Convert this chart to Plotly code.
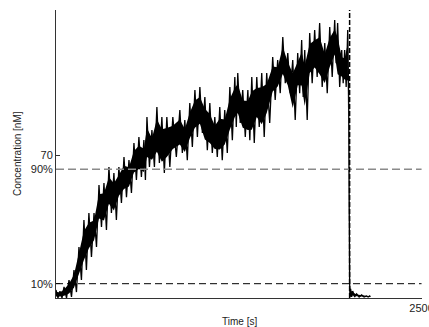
import plotly.graph_objects as go

# ---- data ----
time_s = [0, 27, 55, 89, 123, 157, 191, 225, 260, 294, 328, 362, 396, 430, 465, 499,
          533, 567, 601, 622, 656, 690, 724, 758, 799, 847, 881, 915, 950, 984, 1018,
          1052, 1086, 1120, 1154, 1189, 1223, 1243, 1277, 1312, 1339, 1373, 1407, 1441,
          1482, 1516, 1551, 1585, 1619, 1653, 1680, 1701, 1735, 1769, 1803, 1838, 1872,
          1906, 1926, 1954, 1974, 1995, 2008, 2015, 2029, 2056, 2090, 2124, 2145]
conc_upper = [3.9, 3.4, 5.4, 8.8, 13.7, 25.0, 38.2, 41.6, 41.6, 55.3, 56.3, 64.1, 61.2,
              64.1, 69.0, 67.5, 75.9, 78.8, 77.3, 88.6, 82.2, 93.5, 88.6, 88.6, 88.6,
              92.0, 87.1, 95.4, 101.8, 103.3, 98.4, 95.4, 88.6, 93.5, 92.0, 103.3, 108.2,
              110.1, 101.8, 101.8, 108.2, 108.2, 110.1, 110.1, 118.0, 116.5, 127.8, 119.9,
              116.5, 119.9, 126.3, 121.4, 129.7, 131.2, 134.6, 124.8, 132.7, 136.1, 134.6,
              121.4, 121.4, 131.2, 7.3, 4.5, 3.4, 2.0, 1.5, 1.0, 1.0]
conc_lower = [0.0, 0.0, 0.0, 0.5, 2.9, 8.8, 13.7, 20.1, 25.0, 34.8, 33.3, 41.6, 38.2,
              46.5, 49.4, 51.4, 57.8, 59.2, 57.8, 64.1, 64.1, 66.1, 61.2, 64.1, 69.0,
              71.0, 67.5, 73.9, 78.8, 80.8, 72.4, 71.0, 69.0, 67.5, 71.0, 77.3, 83.7,
              85.7, 78.8, 77.3, 75.9, 83.7, 78.8, 85.7, 96.9, 100.3, 105.2, 100.3, 87.1,
              100.3, 98.4, 87.1, 105.2, 108.2, 103.3, 100.3, 108.2, 115.0, 103.3, 105.2,
              103.3, 100.3, 0.5, 0.5, 0.5, 0.5, 0.5, 0.5, 0.5]
plateau = 70
level_10 = 7
level_90 = 63
stop_time = 2008
x_max = 2500
y_max = 141
y_ticks = [level_10, level_90, plateau]
y_ticktext = ["10%", "90%", "70"]
x_ticks = [2500]
x_ticktext = ["2500"]
x_title = "Time [s]"
y_title = "Concentration [nM]"

# zigzag between the envelopes to form the noisy trace
zx, zy = [], []
for i in range(len(time_s)):
    t = time_s[i]
    dt = (time_s[i + 1] - t) if i + 1 < len(time_s) else 10
    zx += [t, t + dt / 2]
    zy += [conc_upper[i], conc_lower[i]]

core_lo = [u + 0.22 * (l - u) for u, l in zip(conc_upper, conc_lower)]
core_hi = [u + 0.8 * (l - u) for u, l in zip(conc_upper, conc_lower)]

fig = go.Figure()
fig.add_trace(go.Scatter(x=time_s, y=core_hi, mode="lines", line=dict(color="black", width=0),
                         showlegend=False, hoverinfo="skip"))
fig.add_trace(go.Scatter(x=time_s, y=core_lo, mode="lines", line=dict(color="black", width=0),
                         fill="tonexty", fillcolor="black", showlegend=False, hoverinfo="skip"))
fig.add_trace(go.Scatter(x=zx, y=zy, mode="lines", line=dict(color="black", width=1.3),
                         showlegend=False))

fig.add_shape(type="line", xref="x", yref="y", x0=0, x1=x_max, y0=level_90, y1=level_90,
              line=dict(color="#8a8a8a", width=1.5, dash="8px,4px"))
fig.add_shape(type="line", xref="x", yref="y", x0=0, x1=x_max, y0=level_10, y1=level_10,
              line=dict(color="black", width=1, dash="7px,4px"))
fig.add_shape(type="line", xref="x", yref="y", x0=stop_time, x1=stop_time, y0=0, y1=y_max,
              line=dict(color="black", width=1.5, dash="5px,2px"))

fig.add_annotation(text=x_title, xref="paper", yref="paper", x=0.5, y=0, yshift=-23,
                   showarrow=False, font=dict(size=10, color="#222"), xanchor="center", yanchor="middle")
fig.add_annotation(text=y_title, xref="paper", yref="paper", x=0, y=0.5, xshift=-39,
                   textangle=-90, showarrow=False, font=dict(size=10, color="#222"),
                   xanchor="center", yanchor="middle")

fig.update_layout(
    template="none",
    width=429, height=327,
    margin=dict(l=56, r=7, t=10, b=29, autoexpand=False),
    plot_bgcolor="white", paper_bgcolor="white",
    font=dict(family="Liberation Sans, Arial, sans-serif", size=11, color="#222"),
    showlegend=False,
)
fig.update_xaxes(range=[0, x_max + 3], showgrid=False, zeroline=False, showline=True, automargin=False,
                 linecolor="#333", linewidth=1, ticks="inside", ticklen=4, tickcolor="#333",
                 tickvals=x_ticks, ticktext=x_ticktext, tickfont=dict(size=11, color="#222"),
                 ticklabeloverflow="allow")
fig.update_yaxes(range=[0, y_max], showgrid=False, zeroline=False, showline=True, automargin=False,
                 linecolor="#333", linewidth=1, ticks="inside", ticklen=4, tickcolor="#333",
                 tickvals=y_ticks, ticktext=y_ticktext, tickfont=dict(size=11, color="#222"))

fig.write_html("out.html", config={"displayModeBar": False})
with open("out.html", "r", encoding="utf-8") as f:
    html = f.read()
html = html.replace("<head>", "<head><style>html,body{margin:0;padding:0;overflow:hidden}</style>", 1)
with open("out.html", "w", encoding="utf-8") as f:
    f.write(html)
